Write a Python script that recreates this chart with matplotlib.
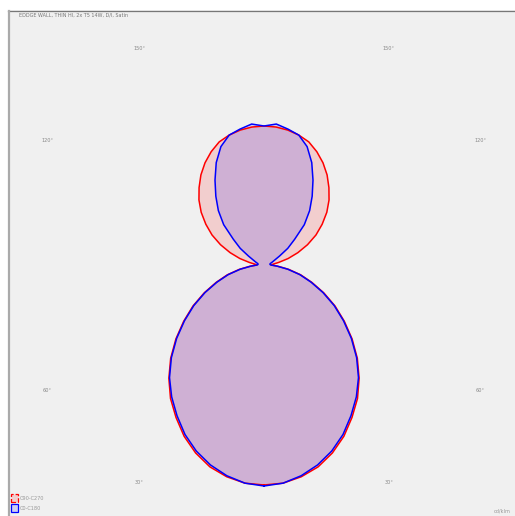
import numpy as np
import matplotlib
matplotlib.use('Agg')
import matplotlib.pyplot as plt
from matplotlib.patches import Rectangle
from matplotlib.lines import Line2D

# gamma angles (0 = nadir, 180 = zenith), 5 degree steps
gamma = np.arange(0, 185, 5)

# intensity in cd/klm, C90-C270 plane
c90_c270 = [220, 219, 215, 209, 200, 189, 176, 163, 148, 132,
            115, 98, 82, 66, 51, 38, 25, 14, 7,
            9, 15, 25, 36, 48, 60, 71, 82, 92, 101,
            110, 118, 125, 131, 134.5, 137, 138.5, 139]

# intensity in cd/klm, C0-C180 plane
c0_c180 = [221, 219, 214, 207, 198, 187, 174, 161, 147, 131,
           114, 97, 81, 65, 50, 37, 24, 13, 7,
           6, 6, 7, 9, 12, 18, 29, 40, 57, 71,
           84, 98, 113, 126, 134.5, 138, 141.5, 139]

angle_labels = [150, 120, 60, 30]
title = 'EDDGE WALL, THIN HI, 2x T5 14W, D/I, Satin'
unit = 'cd/klm'

W, H = 515, 516
fig = plt.figure(figsize=(W / 100, H / 100), dpi=100, facecolor='white')

# panel background and frame lines
fig.patches.append(Rectangle((8 / W, 0), 1 - 8 / W, 1 - 10 / H, transform=fig.transFigure,
                             facecolor='#f0f0f0', edgecolor='none', zorder=-5))
fig.lines.append(Line2D([8 / W, 1], [1 - 10.5 / H, 1 - 10.5 / H], transform=fig.transFigure,
                        color='#777777', lw=0.9, zorder=-4))
fig.lines.append(Line2D([8.5 / W, 8.5 / W], [0, 1 - 10.5 / H], transform=fig.transFigure,
                        color='#aaaaaa', lw=1.6, zorder=-4))

rmax = 250
cx, cy = 264, 265
ax = fig.add_axes([(cx - rmax) / W, (H - cy - rmax) / H, 2 * rmax / W, 2 * rmax / H],
                  projection='polar')
ax.set_theta_zero_location('S')
ax.set_ylim(0, rmax)
ax.patch.set_visible(False)
ax.grid(False)
ax.set_xticks([])
ax.set_yticks([])
ax.spines['polar'].set_visible(False)


def full_curve(vals):
    v = np.array(vals, dtype=float)
    th = np.concatenate([gamma, 360 - gamma[::-1][1:]])
    r = np.concatenate([v, v[::-1][1:]])
    return np.deg2rad(th), r


th, r = full_curve(c90_c270)
ax.fill(th, r, color='red', alpha=0.14, lw=0)
ax.plot(th, r, color='#ff0000', lw=1.1)

th, r = full_curve(c0_c180)
ax.fill(th, r, color='blue', alpha=0.14, lw=0)
ax.plot(th, r, color='#0000ff', lw=1.1)

for a in angle_labels:
    for s in (1, -1):
        ax.text(np.deg2rad(s * a), 250, f'{a}°', ha='center', va='center_baseline',
                fontsize=3.6, color='#888888', clip_on=False)

fig.text(19 / W, 1 - 15 / H, title, fontsize=3.5, color='#777777', ha='left', va='center')
fig.text(1 - 4 / W, 1 - 511 / H, unit, fontsize=3.6, color='#999999', ha='right', va='center')

# legend boxes
fig.patches.append(Rectangle((10.5 / W, 1 - 502 / H), 7 / W, 8 / H, transform=fig.transFigure,
                             facecolor=(1, 0, 0, 0.14), edgecolor='red', lw=0.9, ls='--'))
fig.patches.append(Rectangle((10.5 / W, 1 - 512 / H), 7 / W, 8 / H, transform=fig.transFigure,
                             facecolor=(0, 0, 1, 0.14), edgecolor='blue', lw=0.9))
fig.text(20 / W, 1 - 498 / H, 'C90-C270', fontsize=3.6, color='#999999', ha='left', va='center')
fig.text(20 / W, 1 - 508 / H, 'C0-C180', fontsize=3.6, color='#999999', ha='left', va='center')

fig.savefig('out.png', dpi=100, facecolor='white')
